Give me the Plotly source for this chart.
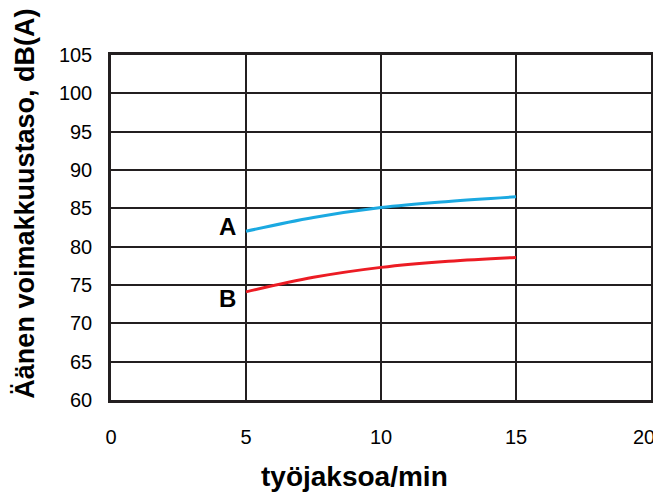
import plotly.graph_objects as go

# työjaksoa/min
x_vals = [5, 7.5, 10, 12.5, 15]
curve_a = [82.0, 83.8, 85.1, 85.9, 86.5]
curve_b = [74.1, 76.0, 77.3, 78.1, 78.6]

x_ticks = [0, 5, 10, 15, 20]
x_labels = ["0", "5", "10", "15", ""]  # "20" piirretään erikseen reunan takia
y_ticks = [60, 65, 70, 75, 80, 85, 90, 95, 100, 105]

line_col = "#231f20"

fig = go.Figure()

fig.add_trace(go.Scatter(
    x=x_vals, y=curve_a, mode="lines", line_shape="spline",
    line=dict(color="#1ba9e1", width=3), name="A",
))
fig.add_trace(go.Scatter(
    x=x_vals, y=curve_b, mode="lines", line_shape="spline",
    line=dict(color="#ec1c24", width=3), name="B",
))

fig.add_annotation(x=4.7, y=82.6, text="<b>A</b>", showarrow=False,
                   xanchor="right", font=dict(size=24, color="black"))
fig.add_annotation(x=4.7, y=73.3, text="<b>B</b>", showarrow=False,
                   xanchor="right", font=dict(size=24, color="black"))

# viimeinen x-tikki mahtumaan kuvaan
fig.add_annotation(x=x_ticks[-1], xref="x", y=0, yref="paper",
                   text=str(x_ticks[-1]), showarrow=False,
                   xanchor="right", yanchor="middle", xshift=6, yshift=-37,
                   font=dict(size=20, color="black"))

# akselien otsikot annotaatioina, jotta paikka on tarkka
fig.add_annotation(xref="paper", yref="paper", x=0.45, y=-0.223,
                   text="<b>työjaksoa/min</b>", showarrow=False,
                   xanchor="center", yanchor="middle",
                   font=dict(size=28, color="black"))
fig.add_annotation(xref="paper", yref="paper", x=-0.16, y=0.568,
                   text="<b>Äänen voimakkuustaso, dB(A)</b>", showarrow=False,
                   textangle=-90, xanchor="center", yanchor="middle",
                   font=dict(size=27, color="black"))

fig.update_xaxes(
    range=[0, 20], tickvals=x_ticks, ticktext=x_labels, ticks="",
    showgrid=True, gridcolor=line_col, gridwidth=2, zeroline=False,
    showline=True, linecolor=line_col, linewidth=2.5, mirror=True,
    tickfont=dict(size=20, color="black"), ticklabelstandoff=17,
    automargin=False,
)
fig.update_yaxes(
    range=[60, 105], tickvals=y_ticks, ticks="", showgrid=True,
    gridcolor=line_col, gridwidth=1.5, zeroline=False,
    showline=True, linecolor=line_col, linewidth=2.5, mirror=True,
    tickfont=dict(size=20, color="black"), ticklabelstandoff=12,
    automargin=False,
)

# sivun oletusmarginaali (8 px) siirtää kuvaa, joten koko pienennetään
fig.update_layout(
    width=653, height=487,
    margin=dict(l=103, r=10, t=47, b=95),
    paper_bgcolor="white", plot_bgcolor="white",
    font=dict(family="Liberation Sans, Arial, sans-serif"),
    showlegend=False,
)

fig.write_html("out.html")
